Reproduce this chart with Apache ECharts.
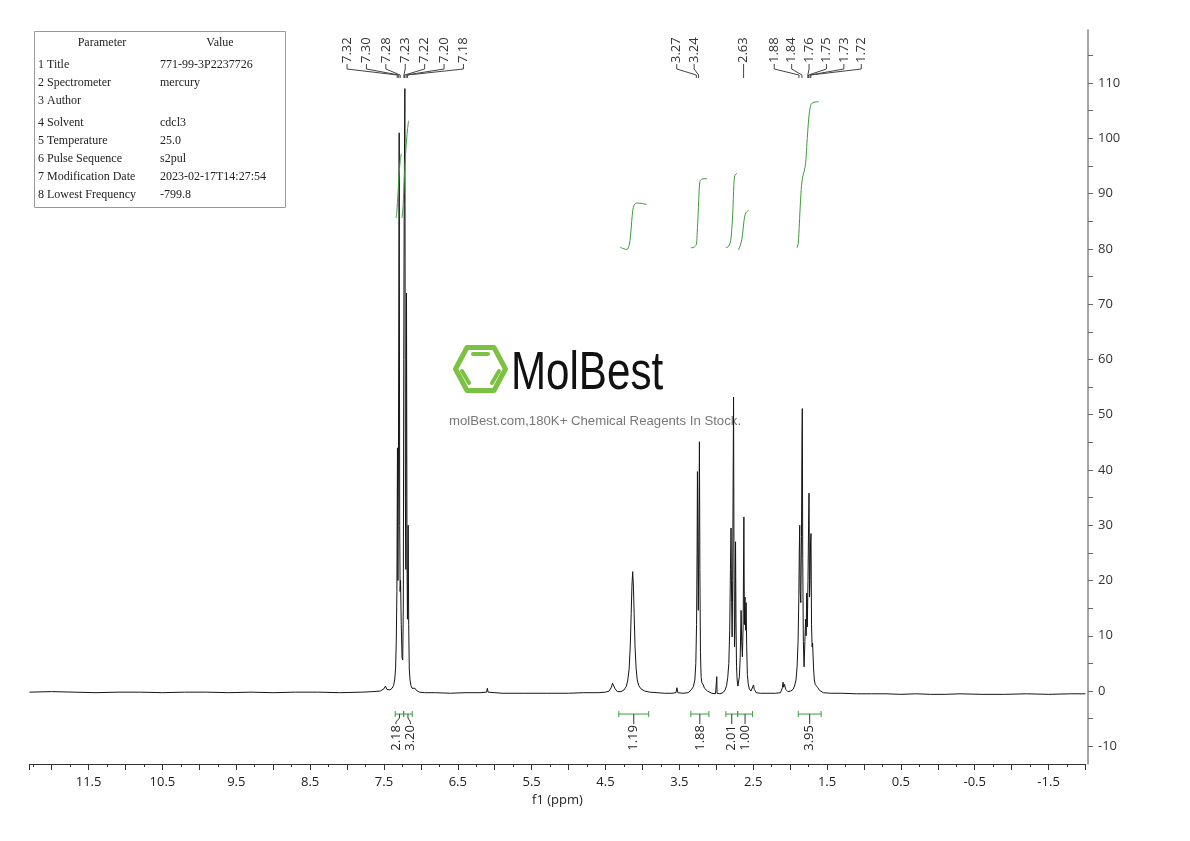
<!DOCTYPE html>
<html><head><meta charset="utf-8">
<script src="https://cdn.jsdelivr.net/npm/echarts@6/dist/echarts.min.js"></script>
<style>html,body{margin:0;padding:0;background:#fff}#c{width:1190px;height:841px}</style>
</head><body><div id="c"></div>
<script>
// ---------- DATA ----------
const xLabelValues = [11.5, 10.5, 9.5, 8.5, 7.5, 6.5, 5.5, 4.5, 3.5, 2.5, 1.5, 0.5, -0.5, -1.5];
const yLabelValues = [-10, 0, 10, 20, 30, 40, 50, 60, 70, 80, 90, 100, 110];
const yTickValues = [-10, -5, 0, 5, 10, 15, 20, 25, 30, 35, 40, 45, 50, 55, 60, 65, 70, 75, 80, 85, 90, 95, 100, 105, 110, 115];

const specLeft = [[12.30,-0.2],[12.0,-0.1],[11.7,-0.2],[11.4,-0.3],[11.1,-0.2],[10.8,-0.2],[10.5,-0.3],[10.2,-0.2],[9.9,-0.2],[9.6,-0.3],[9.3,-0.2],[9.0,-0.3],[8.7,-0.2],[8.4,-0.2],[8.1,-0.3],[7.8,-0.2],[7.65,-0.1]];
const specAromatic = [[7.55,0.0],[7.50,0.4],[7.48,0.9],[7.46,0.3],[7.42,0.2],[7.39,0.5],[7.37,1.0],[7.355,2.0],[7.343,4.0],[7.333,9],[7.325,18],[7.317,44],[7.311,20],[7.304,40],[7.294,101],[7.287,30],[7.281,18],[7.275,20],[7.266,12],[7.255,6],[7.246,5.6],[7.238,15],[7.232,60],[7.226,88],[7.217,109],[7.210,35],[7.204,22],[7.195,72],[7.188,24],[7.182,13],[7.172,30],[7.165,12],[7.157,4],[7.147,2.0],[7.135,1.0],[7.12,0.5],[7.10,0.2],[7.08,0.5],[7.06,0.1],[7.02,-0.2],[6.95,-0.3]];
const specMid = [[6.80,-0.3],[6.60,-0.4],[6.40,-0.3],[6.20,-0.3],[6.11,-0.2],[6.10,0.5],[6.09,-0.2],[5.90,-0.4],[5.60,-0.4],[5.30,-0.4],[5.00,-0.4],[4.80,-0.3],[4.60,-0.3],[4.50,-0.2],[4.45,0.0],[4.42,0.7],[4.405,1.4],[4.39,1.2],[4.37,0.4],[4.34,-0.1],[4.29,-0.1],[4.25,0.2],[4.22,0.8],[4.20,1.8],[4.18,4.0],[4.165,8],[4.152,14],[4.142,19],[4.132,21.6],[4.122,19],[4.112,14],[4.10,8],[4.085,4],[4.07,2.0],[4.05,1.0],[4.02,0.4],[3.97,0.0],[3.90,-0.2],[3.80,-0.3],[3.70,-0.4],[3.60,-0.4],[3.545,-0.3],[3.533,0.6],[3.52,-0.3],[3.45,-0.4],[3.38,-0.3],[3.34,0.2],[3.31,0.8],[3.29,2.0],[3.277,5],[3.267,12],[3.260,25],[3.255,39.7],[3.249,24],[3.243,14.6],[3.236,28],[3.228,45.1],[3.222,22],[3.214,7],[3.205,2.5],[3.195,1.5],[3.185,1.8],[3.175,1.1],[3.16,0.5],[3.12,0.0],[3.06,-0.4],[3.01,-0.5],[2.997,-0.4],[2.993,2.6],[2.989,-0.4],[2.95,-0.5],[2.91,-0.3],[2.88,0.2]];
const specAliphatic = [[2.86,1.0],[2.845,2.4],[2.83,5],[2.818,11],[2.808,22],[2.800,29.5],[2.792,16],[2.785,9.8],[2.778,20],[2.771,40],[2.766,53.2],[2.760,25],[2.753,8],[2.746,12],[2.739,27],[2.733,13],[2.726,4.5],[2.717,2.0],[2.707,0.9],[2.697,1.2],[2.687,2.6],[2.676,6],[2.664,14.6],[2.656,9],[2.646,6.2],[2.636,12],[2.626,31.5],[2.619,12],[2.611,17],[2.603,11],[2.596,16],[2.588,8],[2.579,3],[2.567,1.3],[2.553,0.4],[2.53,0.0],[2.505,0.2],[2.495,1.1],[2.485,0.3],[2.46,-0.3],[2.40,-0.4],[2.30,-0.4],[2.20,-0.4],[2.13,-0.3],[2.105,0.6],[2.095,1.6],[2.088,0.7],[2.075,1.2],[2.06,0.3],[2.03,-0.1],[1.99,0.0],[1.96,0.3],[1.94,0.9],[1.92,2.0],[1.905,4.5],[1.892,9],[1.882,17],[1.876,25],[1.870,30],[1.863,18],[1.855,16],[1.846,28],[1.840,45],[1.835,51.1],[1.829,24],[1.821,9],[1.811,4.4],[1.800,9],[1.790,13],[1.783,10],[1.775,17.7],[1.767,11.6],[1.758,20],[1.750,30],[1.744,35.8],[1.737,17],[1.730,20],[1.723,27],[1.717,28.5],[1.710,12],[1.702,8],[1.696,8.7],[1.690,8.7],[1.682,4],[1.672,2.0],[1.660,1.2],[1.645,1.4],[1.625,0.6],[1.60,0.1],[1.55,-0.3],[1.45,-0.4]];
const specRight = [[1.30,-0.4],[1.10,-0.5],[0.90,-0.5],[0.70,-0.5],[0.50,-0.6],[0.30,-0.5],[0.10,-0.6],[-0.10,-0.6],[-0.30,-0.5],[-0.60,-0.6],[-0.90,-0.6],[-1.20,-0.5],[-1.50,-0.6],[-1.80,-0.5],[-2.00,-0.5]];

// integral curves
const intArom1 = [[7.335,85.6],[7.325,86.8],[7.31,90.0],[7.295,93.5],[7.28,96.0],[7.265,97.2]];
const intArom2 = [[7.255,85.6],[7.24,88.0],[7.225,92.5],[7.21,96.5],[7.195,99.5],[7.18,101.8],[7.165,103.2]];
const int413 = [[4.30,80.3],[4.25,80.0],[4.21,79.9],[4.18,80.6],[4.16,82.5],[4.145,85.0],[4.13,87.0],[4.11,88.0],[4.07,88.3],[4.0,88.2],[3.94,88.0]];
const int325 = [[3.345,80.2],[3.30,80.3],[3.27,80.8],[3.258,83],[3.245,86.5],[3.232,90.5],[3.222,92.2],[3.20,92.6],[3.125,92.7]];
const int278 = [[2.87,80.2],[2.83,80.5],[2.805,81.5],[2.79,83.5],[2.775,87.0],[2.762,91.5],[2.75,93.2],[2.72,93.7]];
const int263 = [[2.70,79.8],[2.67,80.8],[2.645,82.5],[2.625,85.0],[2.60,86.5],[2.56,87.0]];
const int180 = [[1.906,80.2],[1.89,81.0],[1.875,84.5],[1.86,88.5],[1.845,91.5],[1.83,93.0],[1.81,94.0],[1.79,95.5],[1.775,98.5],[1.76,101.5],[1.745,104.0],[1.725,105.8],[1.70,106.4],[1.65,106.6],[1.61,106.6]];

// peak picking groups
const peakGroups = [
  [7.32, 7.30, 7.28, 7.23, 7.22, 7.20, 7.18],
  [3.27, 3.24],
  [2.63],
  [1.88, 1.84, 1.76, 1.75, 1.73, 1.72]
];
// integration ranges [from, to, value]
const integrals = [
  [7.348, 7.233, 2.18], [7.233, 7.117, 3.20], [4.32, 3.915, 1.19],
  [3.345, 3.10, 1.88], [2.87, 2.71, 2.01], [2.71, 2.51, 1.00], [1.89, 1.58, 3.95]
];
const paramNames = ['1 Title','2 Spectrometer','3 Author','4 Solvent','5 Temperature','6 Pulse Sequence','7 Modification Date','8 Lowest Frequency'];
const paramValues = ['771-99-3P2237726','mercury','','cdcl3','25.0','s2pul','2023-02-17T14:27:54','-799.8'];

// ---------- LAYOUT (not data) ----------
const peakLabelLayout = [{shift: 2.6, gap: 19.4}, {shift: -12, gap: 17.4}, {shift: 0, gap: 0}, {shift: 11.4, gap: 17.4}];
const intLabelShift = [-3.5, 2.5, 0, 0, 0, 0, 0];
const paramRowY = [65, 83, 101, 123, 141, 159, 177, 195];
const FONT = '"Open Sans", "DejaVu Sans", sans-serif';

const spectrum = [].concat(specLeft, specAromatic, specMid, specAliphatic, specRight);
const green = '#3c9c3c';

function renderPeakLabels(params, api) {
  const gi = api.value(2);
  const peaks = peakGroups[gi];
  const lay = peakLabelLayout[gi];
  const top = params.coordSys.y;
  const pxs = peaks.map(p => api.coord([p, 0])[0]);
  const mean = pxs.reduce((a, b) => a + b, 0) / pxs.length;
  const center = mean + lay.shift;
  const n = peaks.length;
  const children = [];
  const yLab = top + 33, yBend = top + 39, yPk1 = top + 45, yPk2 = top + 48;
  peaks.forEach((p, i) => {
    const lx = center + (i - (n - 1) / 2) * lay.gap;
    children.push({
      type: 'text', x: lx, y: yLab, rotation: Math.PI / 2,
      style: {text: p.toFixed(2), fill: '#333', fontSize: 13, fontFamily: FONT, align: 'left', verticalAlign: 'middle'}
    });
    children.push({
      type: 'polyline',
      shape: {points: [[lx, yLab + 1], [lx, yBend], [pxs[i], yPk1], [pxs[i], yPk2]]},
      style: {stroke: '#444', lineWidth: 1, fill: null}
    });
  });
  return {type: 'group', children};
}

function renderIntegrals(params, api) {
  const idx = api.value(3);
  const a = api.coord([api.value(0), 0]);
  const b = api.coord([api.value(1), 0]);
  const yb = a[1] + 23;
  const x1 = Math.min(a[0], b[0]), x2 = Math.max(a[0], b[0]);
  const cx = (x1 + x2) / 2;
  const lx = cx + intLabelShift[idx];
  const st = {stroke: green, lineWidth: 1, fill: null};
  return {type: 'group', children: [
    {type: 'line', shape: {x1: x1, y1: yb, x2: x2, y2: yb}, style: st},
    {type: 'line', shape: {x1: x1, y1: yb - 3, x2: x1, y2: yb + 3}, style: st},
    {type: 'line', shape: {x1: x2, y1: yb - 3, x2: x2, y2: yb + 3}, style: st},
    {type: 'polyline', shape: {points: [[cx, yb], [cx, yb + 4], [lx, yb + 8], [lx, yb + 10]]}, style: {stroke: '#333', lineWidth: 1, fill: null}},
    {type: 'text', x: lx, y: yb + 11, rotation: Math.PI / 2,
     style: {text: api.value(2).toFixed(2), fill: '#222', fontSize: 13, fontFamily: FONT, align: 'right', verticalAlign: 'middle'}}
  ]};
}

const chart = echarts.init(document.getElementById('c'), null, {renderer: 'canvas'});

const tableEls = [
  {type: 'rect', shape: {x: 34.5, y: 31.5, width: 251, height: 176}, style: {fill: '#fff', stroke: '#999', lineWidth: 1}, z: 10},
  {type: 'text', x: 102, y: 43, style: {text: 'Parameter', fill: '#222', fontSize: 12, fontFamily: '"Liberation Serif", serif', align: 'center', verticalAlign: 'middle'}, z: 11},
  {type: 'text', x: 220, y: 43, style: {text: 'Value', fill: '#222', fontSize: 12, fontFamily: '"Liberation Serif", serif', align: 'center', verticalAlign: 'middle'}, z: 11}
];
paramNames.forEach((nm, i) => {
  tableEls.push({type: 'text', x: 38, y: paramRowY[i], style: {text: nm, fill: '#222', fontSize: 12, fontFamily: '"Liberation Serif", serif', align: 'left', verticalAlign: 'middle'}, z: 11});
  tableEls.push({type: 'text', x: 160, y: paramRowY[i], style: {text: paramValues[i], fill: '#222', fontSize: 12, fontFamily: '"Liberation Serif", serif', align: 'left', verticalAlign: 'middle'}, z: 11});
});

const logoGreen = '#7cc242';
const watermark = [
  {type: 'polygon', shape: {points: [[455.5, 369], [467, 347.5], [494, 347.5], [505.5, 369], [494, 390.5], [467, 390.5]]},
   style: {fill: null, stroke: logoGreen, lineWidth: 5, lineJoin: 'round'}, z: 0},
  {type: 'line', shape: {x1: 473, y1: 354, x2: 488, y2: 354}, style: {stroke: logoGreen, lineWidth: 4, lineCap: 'round'}, z: 0},
  {type: 'line', shape: {x1: 462, y1: 371, x2: 469, y2: 383}, style: {stroke: logoGreen, lineWidth: 4, lineCap: 'round'}, z: 0},
  {type: 'line', shape: {x1: 499, y1: 371, x2: 492, y2: 383}, style: {stroke: logoGreen, lineWidth: 4, lineCap: 'round'}, z: 0},
  {type: 'text', x: 511, y: 374, scaleX: 0.78,
   style: {text: 'MolBest', fill: '#111', fontSize: 54, fontFamily: '"Liberation Sans", sans-serif', align: 'left', verticalAlign: 'middle'}, z: 0},
  {type: 'text', x: 595, y: 421,
   style: {text: 'molBest.com,180K+ Chemical Reagents In Stock.', fill: '#777', fontSize: 13.2, fontFamily: '"Liberation Sans", sans-serif', align: 'center', verticalAlign: 'middle'}, z: 0}
];

chart.setOption({
  animation: false,
  backgroundColor: '#fff',
  grid: {left: 29.5, right: 104.5, top: 30, bottom: 77},
  xAxis: {
    type: 'value', inverse: true, min: -2.0, max: 12.3, interval: 0.5,
    name: 'f1 (ppm)', nameLocation: 'middle', nameGap: 30,
    nameTextStyle: {fontSize: 13, color: '#222', fontFamily: FONT},
    axisLine: {onZero: false, lineStyle: {color: '#333', width: 1}},
    axisTick: {length: 6, lineStyle: {color: '#333'}},
    minorTick: {show: true, splitNumber: 2, length: 3, lineStyle: {color: '#333'}},
    axisLabel: {customValues: xLabelValues, fontSize: 13, color: '#222', fontFamily: FONT, margin: 12, formatter: v => v.toFixed(1)},
    splitLine: {show: false}
  },
  yAxis: {
    type: 'value', position: 'right', offset: 2.5, min: -13.2, max: 119.6,
    axisLine: {show: true, onZero: false, lineStyle: {color: '#888', width: 1.5}},
    axisTick: {show: true, customValues: yTickValues, length: 5, lineStyle: {color: '#666'}},
    axisLabel: {customValues: yLabelValues, fontSize: 13, color: '#333', fontFamily: FONT, margin: 10},
    splitLine: {show: false}
  },
  graphic: {elements: watermark.concat(tableEls)},
  series: [
    {type: 'line', data: spectrum, showSymbol: false, symbol: 'none', lineStyle: {color: '#151515', width: 1}, z: 3, silent: true},
    ...[intArom1, intArom2, int413, int325, int278, int263, int180].map(d => ({
      type: 'line', data: d, showSymbol: false, symbol: 'none', smooth: 0.3, lineStyle: {color: green, width: 1}, z: 4, silent: true
    })),
    {type: 'custom', renderItem: renderPeakLabels, encode: {x: 0, y: 1},
     data: peakGroups.map((g, i) => [g[0], 0, i]), z: 5, silent: true},
    {type: 'custom', renderItem: renderIntegrals, encode: {x: 0, y: 1},
     data: integrals.map((r, i) => [r[0], r[1], r[2], i]), z: 5, silent: true}
  ]
});
</script></body></html>
